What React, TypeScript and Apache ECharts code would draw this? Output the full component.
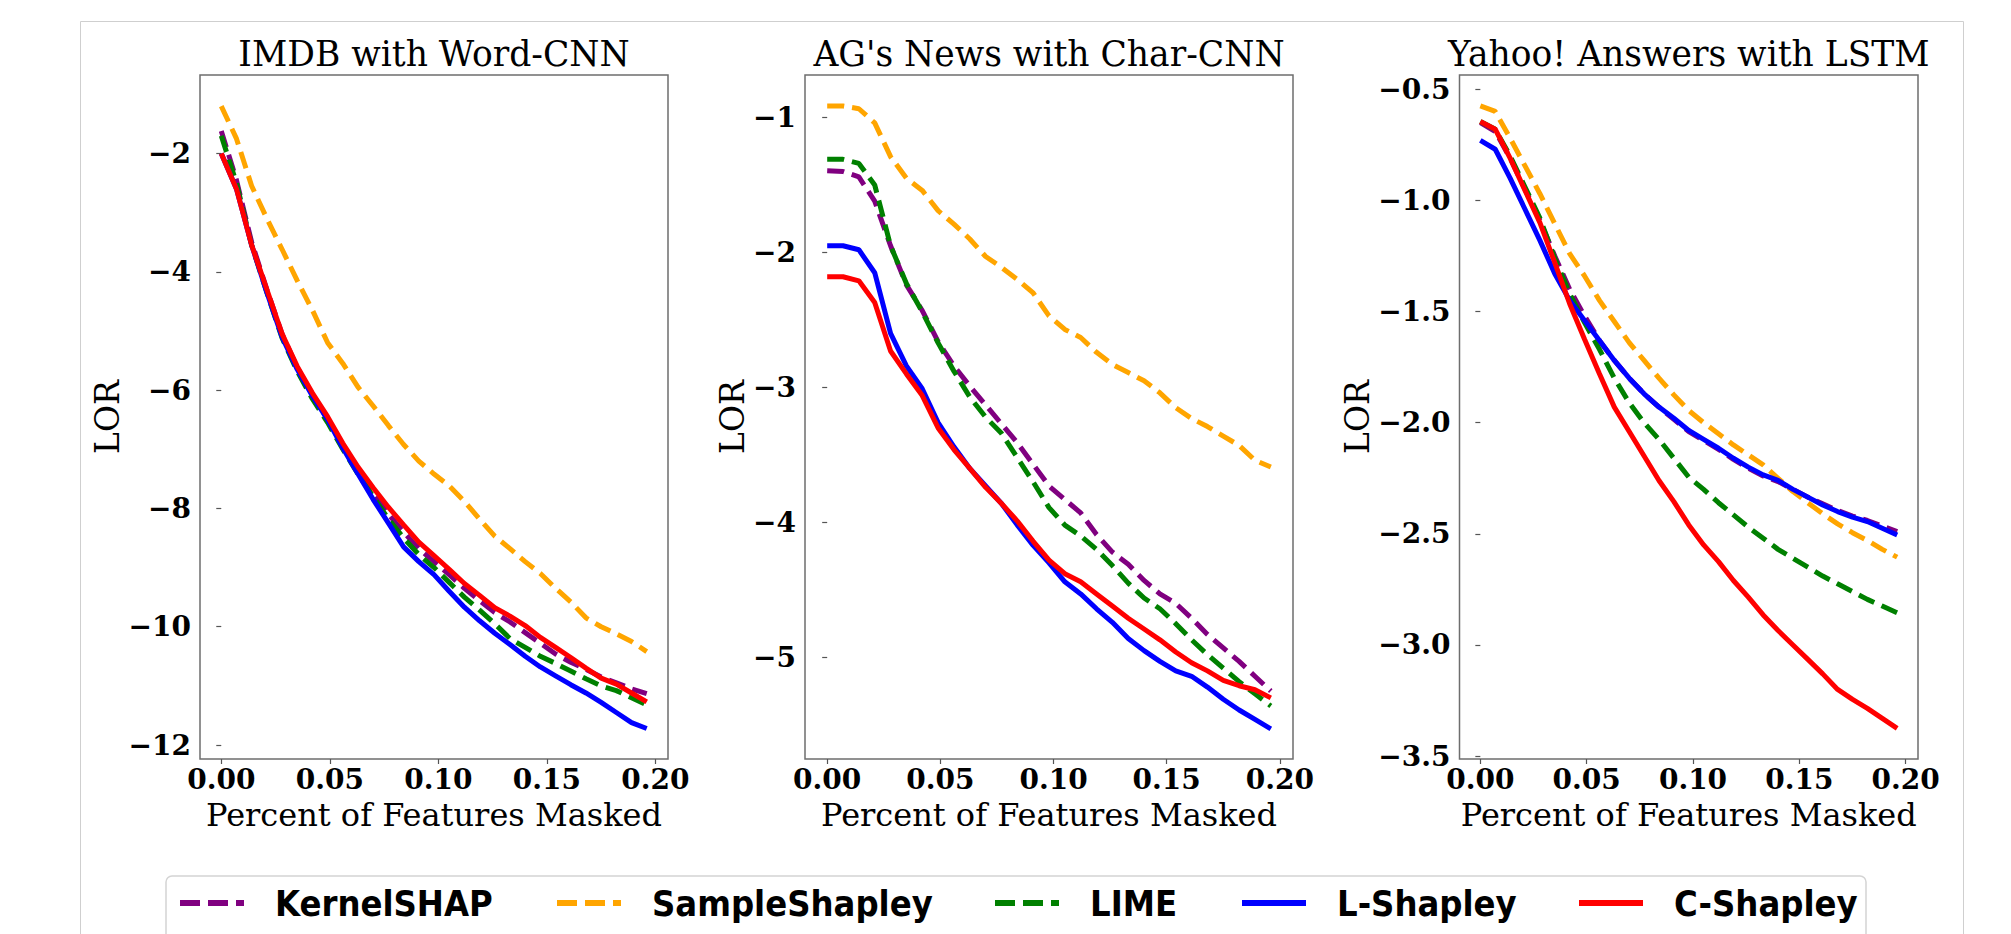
import React, { useEffect, useRef } from 'react';
import * as echarts from 'echarts';

// ---------- data ----------
const xs = [0, 0.007, 0.014, 0.021, 0.028, 0.035, 0.042, 0.049, 0.056, 0.063, 0.07, 0.077, 0.084, 0.091, 0.098, 0.105, 0.112, 0.119, 0.126, 0.133, 0.14, 0.147, 0.154, 0.161, 0.168, 0.175, 0.182, 0.189, 0.196];

const methodNames = ['KernelSHAP', 'SampleShapley', 'LIME', 'L-Shapley', 'C-Shapley'];

const panelTitles = ['IMDB with Word-CNN', "AG's News with Char-CNN", 'Yahoo! Answers with LSTM'];
const xTicks = [0, 0.05, 0.1, 0.15, 0.2];
const imdbYTicks = [-12, -10, -8, -6, -4, -2];
const agYTicks = [-5, -4, -3, -2, -1];
const yahooYTicks = [-3.5, -3.0, -2.5, -2.0, -1.5, -1.0, -0.5];

// IMDB with Word-CNN
const imdbKernelSHAP = [-1.62, -2.45, -3.5, -4.3, -5.05, -5.62, -6.08, -6.5, -6.95, -7.38, -7.75, -8.1, -8.4, -8.68, -8.9, -9.12, -9.35, -9.56, -9.76, -9.92, -10.1, -10.28, -10.46, -10.6, -10.72, -10.85, -10.95, -11.05, -11.13];
const imdbSampleShapley = [-1.2, -1.75, -2.55, -3.1, -3.62, -4.15, -4.65, -5.2, -5.55, -5.95, -6.27, -6.6, -6.92, -7.2, -7.42, -7.62, -7.88, -8.18, -8.47, -8.68, -8.9, -9.1, -9.35, -9.58, -9.85, -10.0, -10.12, -10.25, -10.42];
const imdbLIME = [-1.7, -2.5, -3.55, -4.35, -5.12, -5.68, -6.15, -6.55, -7.0, -7.42, -7.8, -8.18, -8.5, -8.78, -9.0, -9.25, -9.5, -9.72, -9.95, -10.2, -10.35, -10.5, -10.62, -10.75, -10.88, -11.0, -11.08, -11.2, -11.32];
const imdbLShapley = [-2.0, -2.6, -3.55, -4.35, -5.1, -5.65, -6.1, -6.5, -6.98, -7.42, -7.85, -8.25, -8.65, -8.9, -9.12, -9.4, -9.67, -9.9, -10.11, -10.3, -10.5, -10.68, -10.83, -10.98, -11.12, -11.28, -11.45, -11.62, -11.72];
const imdbCShapley = [-2.0, -2.6, -3.55, -4.3, -5.05, -5.6, -6.05, -6.45, -6.9, -7.3, -7.65, -7.98, -8.28, -8.57, -8.8, -9.03, -9.27, -9.47, -9.68, -9.82, -9.98, -10.18, -10.35, -10.52, -10.7, -10.87, -10.97, -11.12, -11.27];

// AG's News with Char-CNN
const agKernelSHAP = [-1.395, -1.4, -1.44, -1.62, -1.95, -2.24, -2.43, -2.66, -2.84, -2.99, -3.13, -3.27, -3.41, -3.57, -3.73, -3.83, -3.93, -4.09, -4.22, -4.31, -4.43, -4.53, -4.6, -4.71, -4.83, -4.93, -5.03, -5.14, -5.25];
const agSampleShapley = [-0.915, -0.915, -0.935, -1.04, -1.29, -1.45, -1.54, -1.69, -1.79, -1.9, -2.03, -2.11, -2.2, -2.3, -2.47, -2.57, -2.63, -2.74, -2.83, -2.89, -2.95, -3.04, -3.15, -3.23, -3.29, -3.36, -3.43, -3.54, -3.59];
const agLIME = [-1.31, -1.31, -1.34, -1.5, -1.95, -2.23, -2.44, -2.67, -2.88, -3.07, -3.22, -3.34, -3.52, -3.7, -3.89, -4.02, -4.1, -4.2, -4.32, -4.45, -4.56, -4.64, -4.75, -4.87, -4.98, -5.08, -5.18, -5.27, -5.36];
const agLShapley = [-1.95, -1.95, -1.98, -2.15, -2.6, -2.84, -3.01, -3.26, -3.44, -3.6, -3.73, -3.86, -4.02, -4.17, -4.3, -4.44, -4.53, -4.64, -4.74, -4.86, -4.95, -5.03, -5.1, -5.14, -5.22, -5.31, -5.39, -5.46, -5.53];
const agCShapley = [-2.18, -2.18, -2.21, -2.37, -2.73, -2.9, -3.06, -3.3, -3.46, -3.6, -3.74, -3.86, -3.99, -4.14, -4.28, -4.38, -4.44, -4.53, -4.62, -4.71, -4.79, -4.87, -4.96, -5.04, -5.1, -5.17, -5.21, -5.24, -5.3];

// Yahoo! Answers with LSTM
const yahooKernelSHAP = [-0.65, -0.69, -0.81, -0.95, -1.09, -1.25, -1.4, -1.52, -1.63, -1.72, -1.8, -1.87, -1.93, -1.985, -2.04, -2.08, -2.12, -2.165, -2.205, -2.24, -2.265, -2.3, -2.335, -2.365, -2.395, -2.42, -2.44, -2.465, -2.49];
const yahooSampleShapley = [-0.575, -0.6, -0.72, -0.845, -0.97, -1.105, -1.24, -1.34, -1.45, -1.545, -1.64, -1.72, -1.8, -1.875, -1.945, -2.0, -2.05, -2.1, -2.145, -2.19, -2.25, -2.31, -2.36, -2.41, -2.455, -2.495, -2.53, -2.57, -2.605];
const yahooLIME = [-0.645, -0.68, -0.8, -0.94, -1.08, -1.26, -1.42, -1.55, -1.67, -1.8, -1.91, -2.0, -2.075, -2.16, -2.245, -2.3, -2.36, -2.415, -2.47, -2.52, -2.57, -2.61, -2.65, -2.69, -2.725, -2.76, -2.795, -2.825, -2.855];
const yahooLShapley = [-0.73, -0.77, -0.9, -1.04, -1.18, -1.33, -1.45, -1.54, -1.63, -1.72, -1.8, -1.87, -1.93, -1.98, -2.035, -2.075, -2.115, -2.16, -2.2, -2.235, -2.26, -2.3, -2.335, -2.37, -2.4, -2.425, -2.445, -2.475, -2.505];
const yahooCShapley = [-0.645, -0.68, -0.81, -0.955, -1.1, -1.28, -1.465, -1.625, -1.78, -1.93, -2.04, -2.15, -2.26, -2.355, -2.46, -2.55, -2.625, -2.71, -2.785, -2.865, -2.935, -3.0, -3.065, -3.13, -3.2, -3.245, -3.285, -3.33, -3.375];

const panelSeries = [
  [imdbKernelSHAP, imdbSampleShapley, imdbLIME, imdbLShapley, imdbCShapley],
  [agKernelSHAP, agSampleShapley, agLIME, agLShapley, agCShapley],
  [yahooKernelSHAP, yahooSampleShapley, yahooLIME, yahooLShapley, yahooCShapley],
];
const panelYTicks = [imdbYTicks, agYTicks, yahooYTicks];

// ---------- styling / layout ----------
const colors = ['#800080', '#FFA500', '#008000', '#0000FF', '#FF0000'];
const isDashed = [true, true, true, false, false];
const grids = [
  { left: 200, width: 468 },
  { left: 805, width: 488 },
  { left: 1459.5, width: 458.5 },
];
const gridTop = 75;
const gridHeight = 684;
const yRanges = [
  [-12.236, -0.674],
  [-5.753, -0.685],
  [-3.513, -0.436],
];
const xRange = [-0.0098, 0.2058];
const yNameGaps = [76, 56, 84];
const yDecimals = [0, 0, 1];
const legendTextStarts = [272, 649, 1087, 1334, 1671];

const serif = 'DejaVu Serif';
const sans = '"DejaVu Sans Condensed", "DejaVu Sans"';

function fmtMinus(v: number, d: number) {
  const s = Math.abs(v).toFixed(d);
  return v < 0 ? '\u2212' + s : s;
}

export default function App() {
  const ref = useRef<HTMLDivElement>(null);

  useEffect(() => {
    if (!ref.current) return;
    const chart = echarts.init(ref.current, null, { renderer: 'svg' });

    const grid = grids.map((g) => ({
      left: g.left,
      top: gridTop,
      width: g.width,
      height: gridHeight,
      show: true,
      borderColor: '#6e6e6e',
      borderWidth: 1.5,
      backgroundColor: 'transparent',
      containLabel: false,
    }));

    const xAxis = grids.map((_, i) => ({
      type: 'value',
      gridIndex: i,
      min: xRange[0],
      max: xRange[1],
      splitLine: { show: false },
      axisLine: { show: false },
      axisTick: { show: true, customValues: xTicks, length: 5, lineStyle: { color: '#555', width: 1.2 } },
      axisLabel: {
        customValues: xTicks,
        formatter: (v: number) => v.toFixed(2),
        fontFamily: serif,
        fontWeight: 'bold',
        fontSize: 28,
        color: '#000',
        margin: 6,
      },
      name: 'Percent of Features Masked',
      nameLocation: 'middle',
      nameGap: 40,
      nameTextStyle: { fontFamily: serif, fontSize: 32, color: '#000' },
    }));

    const yAxis = grids.map((_, i) => ({
      type: 'value',
      gridIndex: i,
      min: yRanges[i][0],
      max: yRanges[i][1],
      splitLine: { show: false },
      axisLine: { show: false },
      axisTick: { show: true, customValues: panelYTicks[i], length: 5, lineStyle: { color: '#555', width: 1.2 } },
      axisLabel: {
        customValues: panelYTicks[i],
        formatter: (v: number) => fmtMinus(v, yDecimals[i]),
        fontFamily: serif,
        fontWeight: 'bold',
        fontSize: 28,
        color: '#000',
        margin: 9,
      },
      name: 'LOR',
      nameLocation: 'middle',
      nameGap: yNameGaps[i],
      nameTextStyle: { fontFamily: serif, fontSize: 33, color: '#000' },
    }));

    const series: any[] = [];
    panelSeries.forEach((list, p) => {
      list.forEach((vals, m) => {
        series.push({
          type: 'line',
          name: methodNames[m],
          xAxisIndex: p,
          yAxisIndex: p,
          data: xs.map((x, k) => [x, vals[k]]),
          symbol: 'none',
          showSymbol: false,
          smooth: false,
          clip: true,
          silent: true,
          color: colors[m],
          lineStyle: {
            color: colors[m],
            width: 5,
            type: isDashed[m] ? [17, 8] : 'solid',
            cap: 'butt',
          },
        });
      });
    });

    const title = panelTitles.map((t, i) => ({
      text: t,
      left: grids[i].left + grids[i].width / 2,
      textAlign: 'center',
      top: 36,
      padding: 0,
      textStyle: { fontFamily: serif, fontWeight: 'normal', fontSize: 34.5, color: '#000' },
    }));

    const legend = methodNames.map((n, i) => ({
      data: [n],
      left: legendTextStarts[i] - 95,
      top: 885,
      padding: 0,
      itemWidth: 64,
      itemHeight: 14,
      selectedMode: false,
      itemStyle: { opacity: 0 },
      lineStyle: { width: 6, type: isDashed[i] ? [20, 8] : 'solid', cap: 'butt' },
      textStyle: {
        fontFamily: sans,
        fontWeight: 'bold',
        fontSize: 36,
        color: '#000',
        padding: [0, 0, 0, 26],
      },
    }));

    chart.setOption({
      animation: false,
      backgroundColor: '#ffffff',
      title,
      grid,
      xAxis,
      yAxis,
      series,
      legend,
      graphic: [
        {
          type: 'rect',
          z: -10,
          silent: true,
          shape: { x: 80.5, y: 21.5, width: 1883, height: 940 },
          style: { fill: 'none', stroke: '#cfcfcf', lineWidth: 1 },
        },
        {
          type: 'rect',
          z: -5,
          silent: true,
          shape: { x: 166, y: 876, width: 1700, height: 90, r: 6 },
          style: { fill: '#ffffff', stroke: '#d4d4d4', lineWidth: 1.5 },
        },
      ],
    });

    return () => {
      chart.dispose();
    };
  }, []);

  return (
    <div
      ref={ref}
      style={{ position: 'fixed', left: 0, top: 0, width: 2011, height: 934, background: '#fff' }}
    />
  );
}
